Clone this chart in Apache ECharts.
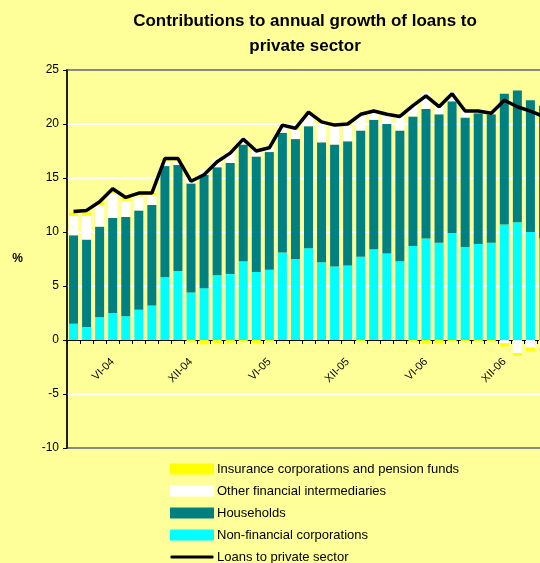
<!DOCTYPE html>
<html>
<head>
<meta charset="utf-8">
<script src="https://cdn.jsdelivr.net/npm/echarts@6/dist/echarts.min.js"></script>
<style>
html,body{margin:0;padding:0;background:#FFFF99;}
#chart{width:540px;height:563px;}
</style>
</head>
<body>
<div id="chart"></div>
<script>
var categories = ['III-04','IV-04','V-04','VI-04','VII-04','VIII-04','IX-04','X-04','XI-04','XII-04',
  'I-05','II-05','III-05','IV-05','V-05','VI-05','VII-05','VIII-05','IX-05','X-05','XI-05','XII-05',
  'I-06','II-06','III-06','IV-06','V-06','VI-06','VII-06','VIII-06','IX-06','X-06','XI-06','XII-06',
  'I-07','II-07','III-07'];
var nonFinancialCorporations = [1.5,1.2,2.1,2.5,2.2,2.8,3.2,5.8,6.4,4.4,4.8,6.0,6.1,7.3,6.3,6.5,8.1,7.5,8.5,7.2,6.8,6.9,7.7,8.4,8.0,7.3,8.7,9.4,9.0,9.9,8.6,8.9,9.0,10.7,10.9,10.0,9.4];
var households = [8.2,8.1,8.4,8.8,9.2,9.2,9.3,10.3,9.8,10.1,10.5,10.0,10.3,10.8,10.7,10.9,11.1,11.1,11.3,11.1,11.3,11.5,11.7,12.0,12.0,12.1,12.0,12.0,11.9,12.2,12.0,12.1,11.9,12.1,12.2,12.2,12.3];
var otherFinancialIntermediaries = [1.8,2.2,2.0,2.3,1.5,1.3,0.9,0.5,0.4,0.4,0.4,0.8,1.1,0.7,0.6,0.5,0.6,0.9,1.2,1.8,1.7,1.5,1.6,0.7,0.9,1.3,1.1,1.5,0.8,0.8,0.7,0.3,0.2,-0.3,-1.2,-0.7,-0.7];
var insuranceAndPension = [0.3,0.3,0.3,0.3,0.3,0.3,0.2,0.2,0.2,-0.2,-0.4,-0.3,-0.25,-0.2,-0.3,-0.1,0.1,0.1,0.1,0.1,0.1,0.1,-0.1,0.1,0,0,-0.15,-0.35,-0.3,-0.15,-0.15,-0.15,-0.15,-0.3,-0.25,-0.3,-0.3];
var loansToPrivateSector = [11.9,12.0,12.8,14.0,13.2,13.6,13.6,16.8,16.8,14.7,15.3,16.5,17.3,18.6,17.5,17.8,19.9,19.6,21.1,20.2,19.9,20.0,20.9,21.2,20.9,20.7,21.7,22.6,21.6,22.8,21.2,21.2,21.0,22.2,21.6,21.2,20.7];
var yTicks = {min: -10, max: 25, interval: 5};

var font = 'Liberation Sans, Arial, sans-serif';
var chart = echarts.init(document.getElementById('chart'));
var barW = 9;
var gridTop = 70, gridHeight = 378;
var pxPerUnit = gridHeight / (yTicks.max - yTicks.min);
chart.setOption({
  backgroundColor: '#FFFF99',
  animation: false,
  title: {
    text: 'Contributions to annual growth of loans to\nprivate sector',
    left: 300, top: 4, textAlign: 'center',
    textStyle: {fontFamily: font, fontSize: 17, fontWeight: 'bold', color: '#000', lineHeight: 25}
  },
  legend: {
    orient: 'vertical', left: 170, top: 462, height: 130, padding: 0,
    itemWidth: 44, itemHeight: 11, itemGap: 8,
    textStyle: {fontFamily: font, fontSize: 13, color: '#000', lineHeight: 14, padding: [0,0,0,-2]},
    data: [
      {name: 'Insurance corporations and pension funds', icon: 'rect'},
      {name: 'Other financial intermediaries', icon: 'rect'},
      {name: 'Households', icon: 'rect'},
      {name: 'Non-financial corporations', icon: 'rect'},
      {name: 'Loans to private sector', icon: 'path://M0,0 M44,11 M1,4 L43,4 Q44.5,5.5 43,7 L1,7 Q-0.5,5.5 1,4 Z'}
    ]
  },
  grid: {left: 67, top: gridTop, width: 483, height: gridHeight, containLabel: false, outerBoundsMode: 'none',
         show: true, borderColor: '#888', borderWidth: 2, backgroundColor: 'transparent'},
  xAxis: {
    type: 'category', data: categories, boundaryGap: true,
    position: 'bottom',
    offset: -(0 - yTicks.min) * pxPerUnit,
    axisLine: {onZero: false, lineStyle: {color: '#000', width: 1}},
    axisTick: {show: true, interval: 0, length: 4, lineStyle: {color: '#000'}},
    axisLabel: {
      rotate: 45, margin: 20, fontFamily: font, fontSize: 11, color: '#000',
      interval: function (index) { return (index - 3) % 6 === 0; }
    },
    splitLine: {show: false}
  },
  yAxis: {
    type: 'value', min: yTicks.min, max: yTicks.max, interval: yTicks.interval,
    name: '%', nameLocation: 'middle', nameRotate: 0, nameGap: 44,
    nameTextStyle: {fontFamily: font, fontSize: 12, fontWeight: 'bold', color: '#000'},
    axisLine: {show: true, lineStyle: {color: '#000', width: 1.5}},
    axisTick: {show: true, length: 4, lineStyle: {color: '#000'}},
    axisLabel: {fontFamily: font, fontSize: 12, color: '#000', margin: 8},
    splitLine: {show: true, showMinLine: false, showMaxLine: false, lineStyle: {color: '#FFFFFF', width: 2}}
  },
  series: [
    {name: 'Non-financial corporations', type: 'bar', stack: 'c', barWidth: barW, itemStyle: {color: '#00FFFF'}, data: nonFinancialCorporations},
    {name: 'Households', type: 'bar', stack: 'c', barWidth: barW, itemStyle: {color: '#008080'}, data: households},
    {name: 'Other financial intermediaries', type: 'bar', stack: 'c', barWidth: barW, itemStyle: {color: '#FFFFFF'}, data: otherFinancialIntermediaries},
    {name: 'Insurance corporations and pension funds', type: 'bar', stack: 'c', barWidth: barW, itemStyle: {color: '#FFFF00'}, data: insuranceAndPension},
    {name: 'Loans to private sector', type: 'line', showSymbol: false, symbol: 'none',
     lineStyle: {color: '#000', width: 3.5}, itemStyle: {color: '#000'}, z: 10, data: loansToPrivateSector}
  ]
});
</script>
</body>
</html>
